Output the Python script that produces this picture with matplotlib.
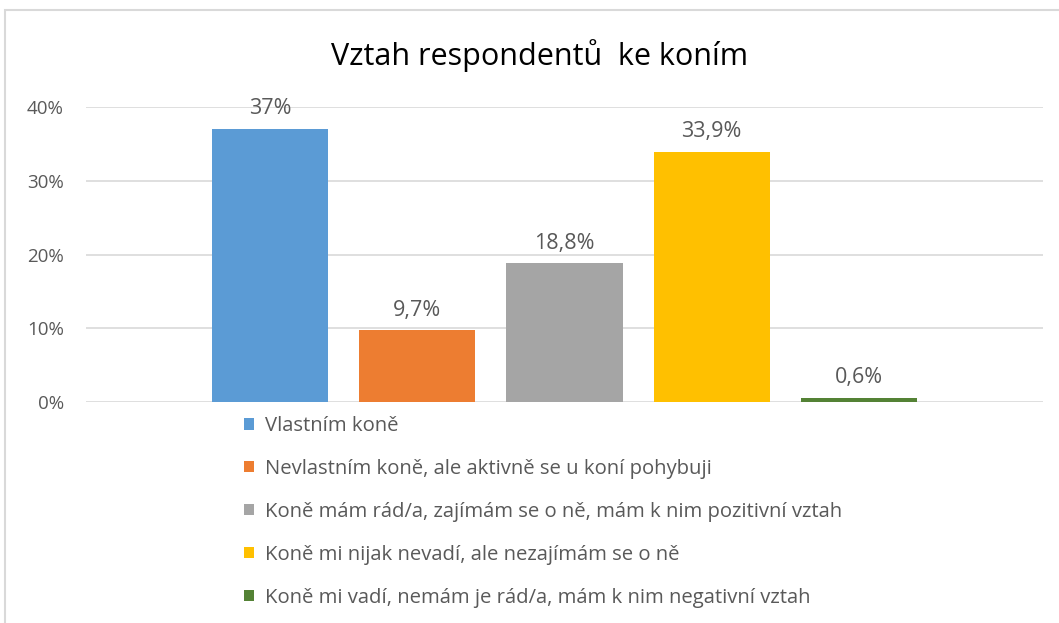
import matplotlib.pyplot as plt
import numpy as np
from matplotlib.patches import Rectangle

plt.rcParams['font.family'] = ['Open Sans', 'DejaVu Sans']

# data
categories = ['Vlastním koně',
              'Nevlastním koně, ale aktivně se u koní pohybuji',
              'Koně mám rád/a, zajímám se o ně, mám k nim pozitivní vztah',
              'Koně mi nijak nevadí, ale nezajímám se o ně',
              'Koně mi vadí, nemám je rád/a, mám k nim negativní vztah']
values = [37.0, 9.7, 18.8, 33.9, 0.6]
value_labels = ['37%', '9,7%', '18,8%', '33,9%', '0,6%']
y_ticks = [0, 10, 20, 30, 40]
y_tick_labels = ['0%', '10%', '20%', '30%', '40%']

COLORS = ['#5B9BD5', '#ED7D31', '#A5A5A5', '#FFC000', '#548235']
TEXT_GRAY = '#595959'
GRID_GRAY = '#D9D9D9'

W, H = 1059, 623
fig = plt.figure(figsize=(W / 100, H / 100), dpi=100)
ax = fig.add_axes([86 / W, (H - 402) / H, (1043 - 86) / W, (402 - 107) / H])

x_pos = np.arange(len(values))
bars = []
for i in range(len(values)):
    b = ax.bar(x_pos[i], values[i], width=0.79, color=COLORS[i], label=categories[i], zorder=3)
    ax.bar_label(b, labels=[value_labels[i]], padding=7, color=TEXT_GRAY, fontsize=15.5)
    bars.append(b)

ax.set_xlim(-1.25, 5.25)
ax.set_ylim(0, 40)
ax.set_yticks(y_ticks)
ax.set_yticklabels(y_tick_labels, color=TEXT_GRAY, fontsize=13.5)
ax.set_xticks([])
ax.tick_params(axis='y', length=0, pad=16)
ax.yaxis.grid(True, color=GRID_GRAY, linewidth=1.2, zorder=0)
for s in ax.spines.values():
    s.set_visible(False)

fig.text(540 / W, 1 - 56 / H, 'Vztah respondentů  ke koním', ha='center', va='center',
         fontsize=22, color='#000000')

leg = fig.legend(handles=[b[0] for b in bars], labels=categories,
                 loc='upper left', bbox_to_anchor=(244 / W, 1 - 416 / H),
                 frameon=False, fontsize=14.6, labelcolor=TEXT_GRAY,
                 handlelength=0.5, handleheight=0.5, handletextpad=0.55,
                 labelspacing=1.13, borderaxespad=0, borderpad=0)

# chart frame (Excel chart area border)
fig.add_artist(Rectangle((5 / W, -0.1), 2, 1 - 10 / H + 0.1, transform=fig.transFigure,
                         fill=False, edgecolor=GRID_GRAY, linewidth=1.5))

fig.savefig('out.png', dpi=100)
